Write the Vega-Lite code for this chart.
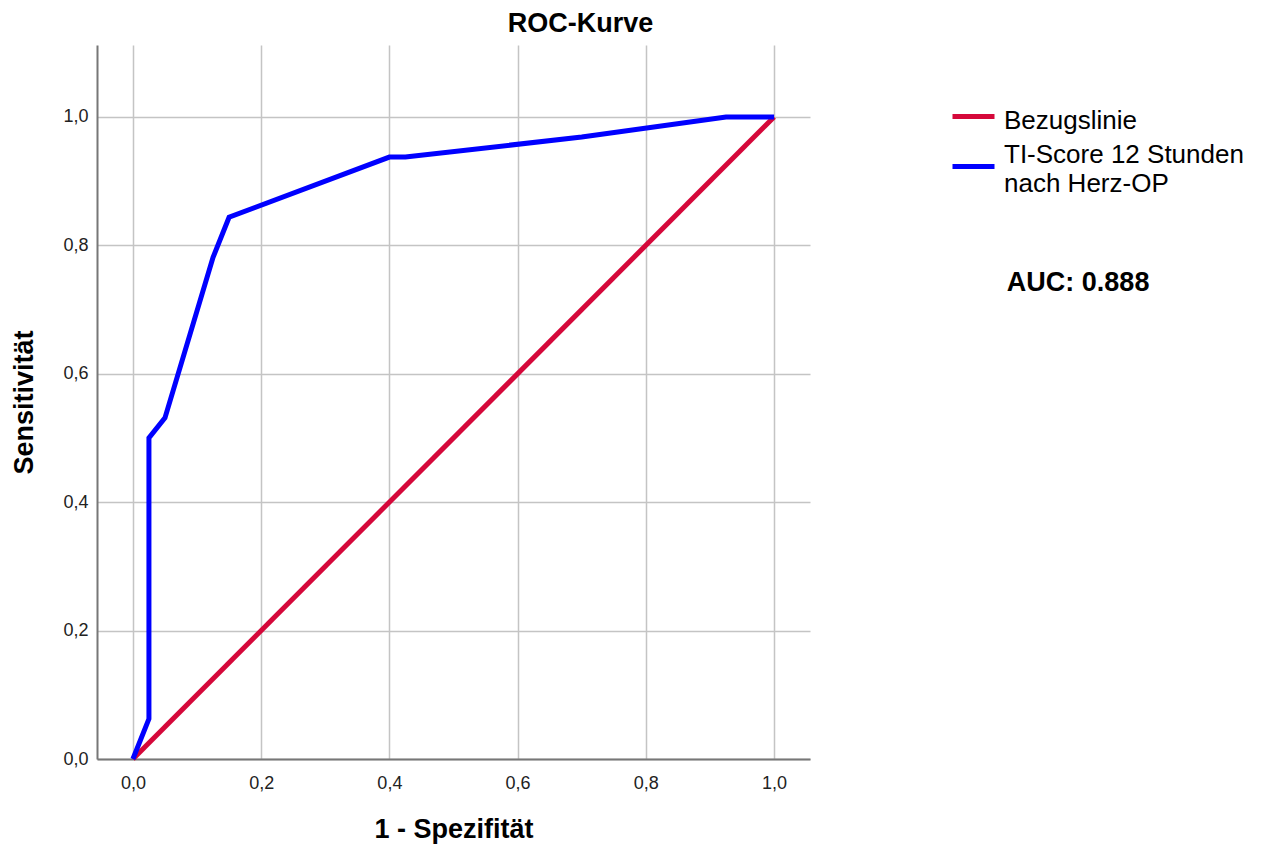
{
  "$schema": "https://vega.github.io/schema/vega-lite/v6.json",
  "autosize": {"type": "none"},
  "width": 713,
  "height": 714,
  "padding": {"left": 97, "top": 45, "right": 463, "bottom": 88},
  "background": "white",
  "config": {
    "font": "Liberation Sans",
    "view": {"stroke": null},
    "style": {"guide-label": {"lineHeight": 29}}
  },
  "title": {
    "text": "ROC-Kurve",
    "fontSize": 27,
    "fontWeight": "bold",
    "font": "Liberation Sans",
    "color": "#000000",
    "anchor": "middle",
    "frame": "group",
    "dx": 127,
    "offset": 7
  },
  "datasets": {
    "roc": [
      {"series": "Bezugslinie", "fpr": 0, "tpr": 0, "order": 1},
      {"series": "Bezugslinie", "fpr": 1, "tpr": 1, "order": 2},
      {"series": "TI-Score 12 Stunden nach Herz-OP", "fpr": 0, "tpr": 0, "order": 1},
      {"series": "TI-Score 12 Stunden nach Herz-OP", "fpr": 0.025, "tpr": 0.0625, "order": 2},
      {"series": "TI-Score 12 Stunden nach Herz-OP", "fpr": 0.025, "tpr": 0.5, "order": 3},
      {"series": "TI-Score 12 Stunden nach Herz-OP", "fpr": 0.05, "tpr": 0.53125, "order": 4},
      {"series": "TI-Score 12 Stunden nach Herz-OP", "fpr": 0.125, "tpr": 0.78125, "order": 5},
      {"series": "TI-Score 12 Stunden nach Herz-OP", "fpr": 0.15, "tpr": 0.84375, "order": 6},
      {"series": "TI-Score 12 Stunden nach Herz-OP", "fpr": 0.4, "tpr": 0.9375, "order": 7},
      {"series": "TI-Score 12 Stunden nach Herz-OP", "fpr": 0.425, "tpr": 0.9375, "order": 8},
      {"series": "TI-Score 12 Stunden nach Herz-OP", "fpr": 0.7, "tpr": 0.96875, "order": 9},
      {"series": "TI-Score 12 Stunden nach Herz-OP", "fpr": 0.925, "tpr": 1, "order": 10},
      {"series": "TI-Score 12 Stunden nach Herz-OP", "fpr": 1, "tpr": 1, "order": 11}
    ],
    "auc": [{"label": "AUC: 0.888"}]
  },
  "layer": [
    {
      "data": {"name": "roc"},
      "mark": {"type": "line", "strokeWidth": 5, "strokeJoin": "miter"},
      "encoding": {
        "x": {
          "field": "fpr",
          "type": "quantitative",
          "scale": {"domain": [-0.056, 1.056], "nice": false, "zero": false},
          "axis": {
            "values": [0, 0.2, 0.4, 0.6, 0.8, 1],
            "title": "1 - Spezifität",
            "titleFontSize": 27,
            "titleFontWeight": "bold",
            "titleColor": "#000000",
            "titlePadding": 24,
            "labelFontSize": 18,
            "labelColor": "#222222",
            "labelPadding": 15,
            "labelExpr": "replace(format(datum.value, '.1f'), '.', ',')",
            "ticks": false,
            "domainColor": "#777777",
            "domainWidth": 2,
            "gridColor": "#C4C4C4",
            "gridWidth": 1.5,
            "gridOpacity": 1
          }
        },
        "y": {
          "field": "tpr",
          "type": "quantitative",
          "scale": {"domain": [0, 1.112], "nice": false, "zero": false},
          "axis": {
            "values": [0, 0.2, 0.4, 0.6, 0.8, 1],
            "title": "Sensitivität",
            "titleFontSize": 27,
            "titleFontWeight": "bold",
            "titleColor": "#000000",
            "titlePadding": 24,
            "labelFontSize": 18,
            "labelColor": "#222222",
            "labelPadding": 9,
            "labelExpr": "replace(format(datum.value, '.1f'), '.', ',')",
            "ticks": false,
            "domainColor": "#777777",
            "domainWidth": 2,
            "gridColor": "#C4C4C4",
            "gridWidth": 1.5,
            "gridOpacity": 1
          }
        },
        "color": {
          "field": "series",
          "type": "nominal",
          "scale": {
            "domain": ["Bezugslinie", "TI-Score 12 Stunden nach Herz-OP"],
            "range": ["#D5083A", "#0000FF"]
          },
          "legend": {
            "title": null,
            "orient": "none",
            "legendX": 853,
            "legendY": 48,
            "symbolType": "stroke",
            "symbolStrokeWidth": 5,
            "symbolSize": 1764,
            "labelFontSize": 26,
            "labelColor": "#000000",
            "labelLimit": 400,
            "labelOffset": 7,
            "rowPadding": 7,
            "labelExpr": "datum.label == 'TI-Score 12 Stunden nach Herz-OP' ? ['TI-Score 12 Stunden', 'nach Herz-OP'] : datum.label",
            "encode": {
              "labels": {
                "update": {
                  "dy": {"signal": "datum.label == 'Bezugslinie' ? 4 : -12"}
                }
              }
            }
          }
        },
        "order": {"field": "order", "type": "quantitative"}
      }
    },
    {
      "data": {"name": "auc"},
      "mark": {"type": "text", "fontSize": 27, "fontWeight": "bold", "align": "left", "baseline": "middle", "color": "#000000"},
      "encoding": {
        "x": {"datum": 1.363, "type": "quantitative"},
        "y": {"datum": 0.741, "type": "quantitative"},
        "text": {"field": "label"}
      }
    }
  ]
}
